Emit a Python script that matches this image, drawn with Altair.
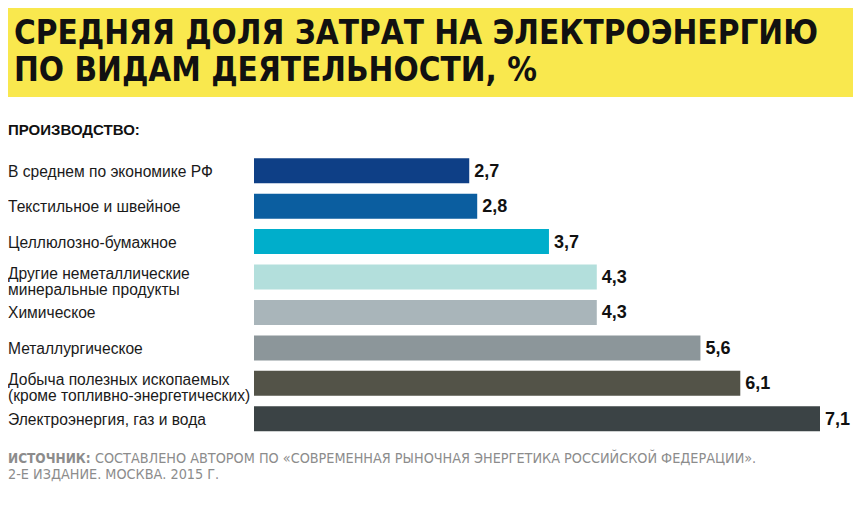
import altair as alt
import pandas as pd

categories = [
    "В среднем по экономике РФ",
    "Текстильное и швейное",
    "Целлюлозно-бумажное",
    "Другие неметаллические\nминеральные продукты",
    "Химическое",
    "Металлургическое",
    "Добыча полезных ископаемых\n(кроме топливно-энергетических)",
    "Электроэнергия, газ и вода",
]
values = [2.7, 2.8, 3.7, 4.3, 4.3, 5.6, 6.1, 7.1]
value_labels = ["2,7", "2,8", "3,7", "4,3", "4,3", "5,6", "6,1", "7,1"]
bar_colors = ["#0e3f86", "#0b5ea0", "#00aecb", "#b3dfdc", "#a9b5ba", "#8c969a", "#535348", "#3b4345"]

title_lines = ["СРЕДНЯЯ ДОЛЯ ЗАТРАТ НА ЭЛЕКТРОЭНЕРГИЮ", "ПО ВИДАМ ДЕЯТЕЛЬНОСТИ, %"]
section_label = "ПРОИЗВОДСТВО:"
source_bold = "ИСТОЧНИК:"
source_line1 = "СОСТАВЛЕНО АВТОРОМ ПО «СОВРЕМЕННАЯ РЫНОЧНАЯ ЭНЕРГЕТИКА РОССИЙСКОЙ ФЕДЕРАЦИИ»."
source_line2 = "2-Е ИЗДАНИЕ. МОСКВА. 2015 Г."

df = pd.DataFrame({"cat": categories, "val": values, "lab": value_labels, "col": bar_colors})
df["two"] = df["cat"].str.contains("\n")

W, H = 845, 497
COND = "DejaVu Sans Condensed"
xscale = alt.Scale(domain=[0, 7.1], range=[246, 812])
yscale = alt.Scale(domain=categories, range=[145, 428.5], paddingInner=0.294, paddingOuter=0.147)

base = alt.Chart(df)

bars = base.mark_bar().encode(
    x=alt.X("val:Q", scale=xscale, axis=None),
    y=alt.Y("cat:N", scale=yscale, axis=None, sort=categories),
    color=alt.Color("col:N", scale=None, legend=None),
)

vlabels = base.mark_text(
    align="left", baseline="middle", dx=5, dy=1,
    font="Liberation Sans", fontWeight="bold", fontSize=18, color="#111111",
).encode(
    x=alt.X("val:Q", scale=xscale),
    y=alt.Y("cat:N", scale=yscale, sort=categories),
    text="lab:N",
)

label_style = dict(align="left", baseline="middle", lineBreak="\n", lineHeight=15.5,
                   font="Liberation Sans", fontSize=15.6, color="#1a1a1a")

clabels1 = base.transform_filter("!datum.two").mark_text(dy=1, **label_style).encode(
    x=alt.value(0),
    y=alt.Y("cat:N", scale=yscale, sort=categories),
    text="cat:N",
)
clabels2 = base.transform_filter("datum.two").mark_text(dy=-3, **label_style).encode(
    x=alt.value(0),
    y=alt.Y("cat:N", scale=yscale, sort=categories),
    text="cat:N",
)

band = alt.Chart(pd.DataFrame({"a": [0]})).mark_rect(color="#f9e84e").encode(
    x=alt.value(0), x2=alt.value(847), y=alt.value(0), y2=alt.value(89)
)
dash = alt.Chart(pd.DataFrame({"a": [0]})).mark_rule(color="#222222", strokeWidth=1.2).encode(
    x=alt.value(847), x2=alt.value(853), y=alt.value(89.5)
)

tdf = pd.DataFrame({"t": title_lines, "yy": [36, 73]})
titles = alt.Chart(tdf).mark_text(
    align="left", baseline="alphabetic",
    font=COND, fontWeight="bold", fontSize=33, color="#111111",
).encode(
    x=alt.value(6),
    y=alt.Y("yy:Q", scale=None),
    text="t:N",
)

sec = alt.Chart(pd.DataFrame({"t": [section_label]})).mark_text(
    align="left", baseline="middle", font="Liberation Sans", fontWeight="bold",
    fontSize=15, color="#111111",
).encode(x=alt.value(0), y=alt.value(122), text="t:N")

src_b = alt.Chart(pd.DataFrame({"t": [source_bold]})).mark_text(
    align="left", baseline="middle", font=COND, fontWeight="bold",
    fontSize=13.5, color="#8c8c8c",
).encode(x=alt.value(0), y=alt.value(451), text="t:N")

src_1 = alt.Chart(pd.DataFrame({"t": [source_line1]})).mark_text(
    align="left", baseline="middle", font=COND,
    fontSize=14.3, color="#8c8c8c",
).encode(x=alt.value(87), y=alt.value(451), text="t:N")

src_2 = alt.Chart(pd.DataFrame({"t": [source_line2]})).mark_text(
    align="left", baseline="middle", font=COND,
    fontSize=14.3, color="#8c8c8c",
).encode(x=alt.value(0), y=alt.value(467), text="t:N")

chart = alt.layer(band, dash, titles, sec, bars, vlabels, clabels1, clabels2,
                  src_b, src_1, src_2).properties(
    width=W, height=H, autosize="none", padding=0, background="white"
).configure_view(stroke=None)

chart.save("out.html", embed_options={"renderer": "svg", "actions": False})
